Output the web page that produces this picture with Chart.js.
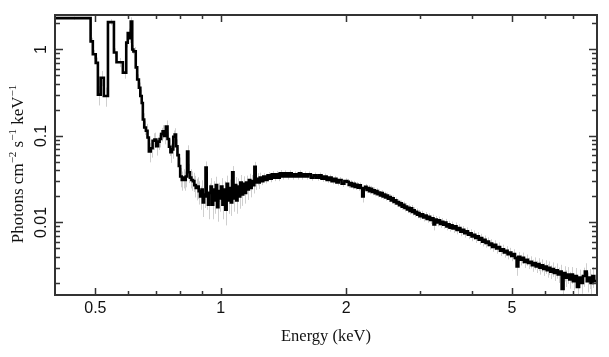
<!DOCTYPE html>
<html><head><meta charset="utf-8">
<script src="https://cdn.jsdelivr.net/npm/chart.js@4"></script>
<style>html,body{margin:0;padding:0;background:#fff}</style>
</head><body>
<canvas id="c" width="609" height="357"></canvas>
<script>
// Bin lower edges (keV)
const binLow = [
  0.400,0.487,0.493,0.501,0.507,0.515,0.524,0.536,0.554,0.562,0.582,0.593,0.598,0.604,0.608,0.613,0.617,0.625,0.630,0.636,0.641,0.646,
  0.650,0.655,0.661,0.667,0.672,0.679,0.686,0.693,0.700,0.707,0.713,0.719,0.725,0.731,0.738,0.745,0.751,0.757,0.763,0.769,
  0.775,0.781,0.787,0.793,0.799,0.806,0.812,0.818,0.824,0.830,0.836,0.843,0.850,0.857,0.864,0.871,0.878,0.885,0.892,0.899,
  0.905,0.912,0.919,0.925,0.932,0.938,
  0.945,0.952,0.959,0.966,0.973,0.980,0.987,0.994,1.001,1.009,1.017,1.025,1.033,1.041,1.049,1.057,1.065,1.073,1.081,1.089,
  1.097,1.105,1.114,1.123,1.132,1.141,1.150,1.159,1.168,1.177,1.186,1.195,1.204,1.213,1.222,1.231,1.240,
  1.25,1.265,1.28,1.295,1.31,1.325,1.34,1.355,1.37,1.385,1.40,1.42,1.44,1.46,1.48,1.50,1.52,1.54,1.56,1.58,
  1.60,1.62,1.645,1.67,1.695,1.72,1.745,1.77,1.795,1.82,1.845,1.87,1.895,1.92,1.95,1.98,
  2.01,2.028,2.045,2.063,2.08,2.098,2.115,2.133,2.15,2.168,2.185,2.203,2.22,2.238,2.255,2.273,2.29,2.308,2.325,2.343,
  2.36,2.378,2.395,2.413,2.43,2.448,2.465,2.483,2.50,2.52,2.54,2.56,2.58,2.60,2.62,2.64,2.66,2.68,2.70,2.72,
  2.74,2.76,2.78,2.80,2.82,2.84,2.86,2.88,2.90,2.92,2.94,2.96,2.98,3.00,
  3.03,3.06,3.09,3.12,3.15,3.18,3.21,3.24,3.27,3.30,3.33,3.36,3.39,3.42,3.45,3.48,3.51,3.54,3.57,
  3.60,3.64,3.68,3.72,3.76,3.80,3.84,3.88,3.92,3.96,4.00,4.04,4.08,4.12,4.16,4.20,4.24,4.28,4.32,4.36,4.40,4.44,4.48,
  4.53,4.58,4.63,4.68,4.73,4.78,4.83,4.88,4.93,4.98,5.03,5.08,5.13,5.18,5.23,
  5.28,5.34,5.40,5.46,5.52,5.58,5.64,5.70,5.76,5.82,5.88,5.94,6.00,6.06,6.12,6.18,6.24,6.30,
  6.37,6.44,6.51,6.58,6.65,6.72,6.79,6.86,6.93,7.00,
  7.08,7.16,7.24,7.32,7.40,7.48,7.56,7.64,7.72,7.80,7.88
];
const lastEdge = 8.0;
// Photons cm^-2 s^-1 keV^-1
const flux = [
  2.30,1.24,0.88,0.70,0.30,0.47,0.29,2.07,0.92,0.71,0.54,1.20,1.55,1.35,2.10,1.00,0.95,0.62,0.45,0.36,0.29,0.24,
  0.155,0.125,0.115,0.096,0.066,0.072,0.088,0.091,0.076,0.086,0.092,0.105,0.113,0.100,0.128,0.092,0.075,0.065,0.070,0.098,
  0.104,0.076,0.060,0.045,0.034,0.031,0.033,0.031,0.034,0.066,0.038,0.033,0.031,0.030,0.027,0.025,0.026,0.023,0.020,0.024,
  0.017,0.021,0.043,0.020,0.016,0.022,
  0.026,0.016,0.024,0.018,0.027,0.015,0.023,0.019,0.026,0.016,0.024,0.014,0.028,0.018,0.025,0.017,0.038,0.019,0.027,0.018,
  0.026,0.020,0.029,0.021,0.028,0.022,0.029,0.024,0.031,0.025,0.030,0.027,0.044,0.029,0.032,0.029,0.033,
  0.030,0.034,0.031,0.035,0.032,0.036,0.033,0.036,0.033,0.037,0.034,0.037,0.034,0.037,0.034,0.036,0.034,0.037,0.034,0.036,
  0.034,0.036,0.033,0.035,0.033,0.035,0.032,0.034,0.031,0.033,0.030,0.032,0.029,0.031,0.028,0.030,
  0.0295,0.0272,0.0285,0.0262,0.0280,0.0258,0.0272,0.0252,0.0268,0.0250,0.0200,0.0248,0.0258,0.0238,0.0250,0.0230,0.0245,0.0225,0.0236,0.0218,
  0.0230,0.0212,0.0222,0.0205,0.0218,0.0200,0.0210,0.0194,0.0205,0.0188,0.0196,0.0180,0.0190,0.0172,0.0180,0.0166,0.0172,0.0158,0.0166,0.0152,
  0.0160,0.0147,0.0153,0.0141,0.0148,0.0136,0.0146,0.0132,0.0138,0.0127,0.0133,0.0123,0.0128,0.0118,
  0.0124,0.0114,0.0120,0.0110,0.0116,0.0107,0.0112,0.0095,0.0108,0.0100,0.0106,0.0096,0.0102,0.0094,0.0100,0.0090,0.0095,0.0087,0.0093,
  0.0085,0.0090,0.0082,0.0086,0.0078,0.0082,0.0075,0.0079,0.0072,0.0075,0.0069,0.0072,0.0066,0.0069,0.0063,0.0066,0.0060,0.0063,0.0058,0.0060,0.0055,0.0057,0.0052,
  0.0055,0.0050,0.0052,0.0047,0.0049,0.0045,0.0047,0.0043,0.0045,0.0041,0.0043,0.0039,0.0031,0.0040,0.0037,
  0.0039,0.0035,0.0037,0.0034,0.0035,0.0032,0.0034,0.0031,0.0033,0.0030,0.0032,0.0029,0.0031,0.0028,0.0030,0.0027,0.0029,0.0026,
  0.0028,0.0025,0.0027,0.0017,0.0026,0.0023,0.0025,0.0022,0.0025,0.0021,
  0.0024,0.0018,0.0023,0.0020,0.0024,0.0027,0.0021,0.0023,0.0020,0.0024,0.0021
];
// relative 1-sigma errors
const relErr = [
  .04,.1,.12,.15,.25,.2,.25,.08,.12,.12,.15,.12,.12,.12,.12,.12,.12,.15,.15,.15,.18,.2,
  .18,.18,.2,.2,.25,.22,.22,.2,.22,.2,.2,.18,.18,.2,.18,.2,.22,.25,.22,.18,
  .18,.2,.22,.25,.25,.25,.25,.25,.25,.18,.25,.25,.25,.25,.28,.28,.28,.3,.3,.28,
  .32,.3,.18,.3,.32,.28,
  .25,.32,.25,.3,.25,.32,.25,.3,.25,.32,.25,.34,.24,.3,.25,.3,.18,.3,.24,.3,
  .24,.28,.22,.26,.22,.25,.2,.24,.18,.22,.18,.2,.14,.18,.16,.16,.14,
  .1,.09,.09,.09,.09,.09,.09,.09,.09,.09,.08,.08,.08,.08,.08,.08,.08,.08,.08,.08,
  .08,.08,.08,.08,.08,.08,.08,.08,.08,.08,.08,.08,.08,.08,.08,.08,
  .08,.08,.08,.08,.08,.08,.08,.08,.08,.08,.15,.08,.08,.08,.08,.08,.08,.08,.08,.08,
  .08,.08,.08,.08,.08,.08,.08,.08,.08,.08,.08,.08,.08,.08,.08,.08,.08,.08,.08,.08,
  .09,.09,.09,.09,.09,.09,.09,.09,.09,.09,.09,.09,.09,.09,
  .1,.1,.1,.1,.1,.1,.1,.15,.1,.1,.1,.1,.1,.1,.1,.1,.1,.1,.1,
  .11,.11,.11,.11,.11,.11,.11,.11,.11,.11,.12,.12,.12,.12,.12,.12,.12,.12,.12,.12,.12,.12,.12,
  .13,.13,.13,.13,.13,.13,.13,.13,.13,.13,.14,.14,.22,.14,.14,
  .15,.15,.15,.15,.16,.16,.16,.16,.17,.17,.17,.17,.18,.18,.18,.18,.19,.19,
  .2,.2,.2,.3,.2,.22,.22,.22,.22,.22,
  .24,.3,.24,.25,.25,.25,.26,.26,.27,.27,.28
];
const xMajor = [0.5, 1, 2, 5];
const xMajorLabels = ['0.5', '1', '2', '5'];
const xMinor = [0.6, 0.7, 0.8, 0.9, 3, 4, 6, 7];
const yMajor = [0.01, 0.1, 1];
const yMajorLabels = ['0.01', '0.1', '1'];
const yMinor = [0.002,0.003,0.004,0.005,0.006,0.007,0.008,0.009,
                0.02,0.03,0.04,0.05,0.06,0.07,0.08,0.09,
                0.2,0.3,0.4,0.5,0.6,0.7,0.8,0.9,2];

const points = binLow.map((e, i) => ({x: e, y: flux[i]}));
points.push({x: lastEdge, y: flux[flux.length - 1]});

const errPlugin = {
  id: 'errbars',
  beforeDatasetsDraw(chart) {
    const {ctx, chartArea: a, scales: {x, y}} = chart;
    ctx.save();
    ctx.beginPath();
    ctx.rect(a.left, a.top, a.right - a.left, a.bottom - a.top);
    ctx.clip();
    ctx.strokeStyle = '#cfcfcf';
    ctx.lineWidth = 1;
    ctx.beginPath();
    for (let i = 0; i < binLow.length; i++) {
      const e = relErr[i];
      if (e === undefined || flux[i] === undefined) continue;
      const hi = i < binLow.length - 1 ? binLow[i + 1] : lastEdge;
      const xc = Math.round(x.getPixelForValue((binLow[i] + hi) / 2)) + 0.5;
      const y1 = y.getPixelForValue(flux[i] * (1 + e));
      const y0 = y.getPixelForValue(Math.max(flux[i] * (1 - e), 1e-5));
      ctx.moveTo(xc, y0);
      ctx.lineTo(xc, y1);
    }
    ctx.stroke();
    ctx.restore();
  }
};

const framePlugin = {
  id: 'frame',
  afterDraw(chart) {
    const {ctx, chartArea: a, scales: {x, y}} = chart;
    ctx.save();
    ctx.strokeStyle = '#333';
    ctx.lineWidth = 1.5;
    ctx.beginPath();
    const tick = (v, len, horiz) => {
      if (horiz) {
        const px = Math.round(x.getPixelForValue(v)) + 0.5;
        ctx.moveTo(px, a.bottom); ctx.lineTo(px, a.bottom - len);
        ctx.moveTo(px, a.top); ctx.lineTo(px, a.top + len);
      } else {
        const py = Math.round(y.getPixelForValue(v)) + 0.5;
        ctx.moveTo(a.left, py); ctx.lineTo(a.left + len, py);
        ctx.moveTo(a.right, py); ctx.lineTo(a.right - len, py);
      }
    };
    xMajor.forEach(v => tick(v, 7, true));
    xMinor.forEach(v => tick(v, 4, true));
    yMajor.forEach(v => tick(v, 8, false));
    yMinor.forEach(v => tick(v, 5, false));
    ctx.stroke();
    ctx.lineWidth = 2;
    ctx.strokeRect(a.left, a.top, a.right - a.left, a.bottom - a.top);

    ctx.fillStyle = '#111';
    ctx.font = '16px "Liberation Sans", Arial, sans-serif';
    ctx.textAlign = 'center';
    ctx.textBaseline = 'alphabetic';
    xMajor.forEach((v, i) => {
      ctx.fillText(xMajorLabels[i], x.getPixelForValue(v), 313);
    });
    yMajor.forEach((v, i) => {
      ctx.save();
      ctx.translate(46, y.getPixelForValue(v));
      ctx.rotate(-Math.PI / 2);
      ctx.fillText(yMajorLabels[i], 0, 0);
      ctx.restore();
    });

    ctx.font = '16.5px "Liberation Serif", "Times New Roman", serif';
    ctx.fillText('Energy (keV)', (a.left + a.right) / 2 + 0, 341);

    // y title with superscripts
    const parts = [
      ['Photons cm', false], ['\u22122', true], [' s', false], ['\u22121', true],
      [' keV', false], ['\u22121', true]
    ];
    const bigF = '17px "Liberation Serif", "Times New Roman", serif';
    const smallF = '11px "Liberation Serif", "Times New Roman", serif';
    let total = 0;
    parts.forEach(p => { ctx.font = p[1] ? smallF : bigF; total += ctx.measureText(p[0]).width; });
    ctx.save();
    ctx.translate(23, 164);
    ctx.rotate(-Math.PI / 2);
    ctx.textAlign = 'left';
    let cx = -total / 2;
    parts.forEach(p => {
      ctx.font = p[1] ? smallF : bigF;
      ctx.fillText(p[0], cx, p[1] ? -7 : 0);
      cx += ctx.measureText(p[0]).width;
    });
    ctx.restore();
    ctx.restore();
  }
};

new Chart(document.getElementById('c'), {
  type: 'line',
  data: {
    datasets: [{
      data: points,
      stepped: true,
      borderColor: '#000',
      borderWidth: 2.6,
      pointRadius: 0,
      fill: false,
      tension: 0
    }]
  },
  options: {
    responsive: false,
    animation: false,
    events: [],
    layout: {padding: {top: 15, right: 12, left: 0, bottom: 0}},
    plugins: {legend: {display: false}, tooltip: {enabled: false}},
    scales: {
      x: {
        type: 'logarithmic', min: 0.4, max: 8,
        grid: {display: false}, border: {display: false},
        ticks: {display: false},
        afterFit(s) { s.height = 62; }
      },
      y: {
        type: 'logarithmic', min: 0.00145, max: 2.5,
        grid: {display: false}, border: {display: false},
        ticks: {display: false},
        afterFit(s) { s.width = 55; }
      }
    }
  },
  plugins: [errPlugin, framePlugin]
});
</script>
</body></html>
